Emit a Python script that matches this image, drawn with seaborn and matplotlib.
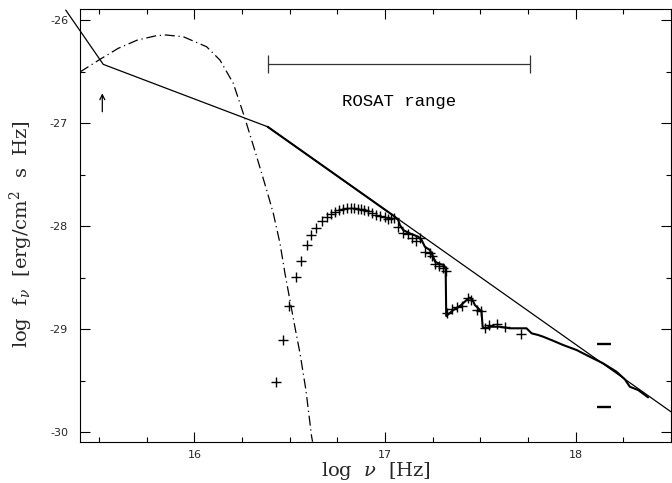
import numpy as np
import pandas as pd
import seaborn as sns
import matplotlib
matplotlib.use("Agg")
import matplotlib.pyplot as plt
from matplotlib.ticker import MultipleLocator

# ---------------- data (log nu [Hz], log f_nu) ----------------
# ROSAT PSPC data points (crosses)
data_x = [16.426, 16.463, 16.498, 16.531, 16.560, 16.589, 16.613, 16.639, 16.667, 16.693,
          16.716, 16.740, 16.759, 16.777, 16.799, 16.820, 16.838, 16.856, 16.874, 16.891,
          16.909, 16.930, 16.952, 16.973, 16.999, 17.014, 17.031, 17.048, 17.069, 17.094,
          17.120, 17.141, 17.162, 17.183, 17.209, 17.235, 17.246, 17.262, 17.284, 17.303,
          17.319, 17.323, 17.349, 17.375, 17.402, 17.436, 17.450, 17.484, 17.503, 17.524,
          17.547, 17.585, 17.629, 17.713]
data_y = [-29.508, -29.101, -28.774, -28.493, -28.340, -28.185, -28.082, -28.020, -27.954, -27.911,
          -27.882, -27.859, -27.840, -27.830, -27.826, -27.826, -27.826, -27.830, -27.833, -27.843,
          -27.850, -27.875, -27.891, -27.901, -27.908, -27.930, -27.918, -27.923, -28.011, -28.066,
          -28.080, -28.110, -28.139, -28.114, -28.250, -28.257, -28.289, -28.371, -28.386, -28.405,
          -28.435, -28.839, -28.800, -28.779, -28.774, -28.699, -28.716, -28.813, -28.822, -28.990,
          -28.958, -28.946, -28.978, -29.046]

# absorbed model (solid, thicker)
model_x = [16.384, 17.052, 17.069, 17.078, 17.095, 17.130, 17.174, 17.192, 17.209, 17.235,
           17.253, 17.262, 17.288, 17.309, 17.318, 17.321, 17.358, 17.393, 17.428, 17.445,
           17.459, 17.471, 17.489, 17.506, 17.512, 17.524, 17.550, 17.602, 17.655, 17.742,
           17.769, 17.803, 17.830, 17.882, 17.934, 18.005, 18.074, 18.144, 18.214, 18.258,
           18.284, 18.328, 18.380]
model_y = [-27.035, -27.908, -27.940, -27.988, -28.037, -28.069, -28.102, -28.134, -28.199, -28.231,
           -28.296, -28.344, -28.367, -28.376, -28.408, -28.871, -28.813, -28.774, -28.716, -28.693,
           -28.716, -28.764, -28.796, -28.829, -28.975, -28.990, -28.975, -28.975, -28.990, -28.990,
           -29.039, -29.055, -29.072, -29.111, -29.152, -29.201, -29.266, -29.330, -29.411, -29.485,
           -29.557, -29.589, -29.660]

# broken power law (thin solid)
plaw_x = [15.325, 15.522, 16.384, 18.50]
plaw_y = [-25.903, -26.430, -27.035, -29.800]

# dash-dot thermal component
bb_x = [15.40, 15.505, 15.60, 15.70, 15.80, 15.85, 15.942, 16.064, 16.134, 16.204,
        16.265, 16.327, 16.379, 16.414, 16.449, 16.475, 16.501, 16.527, 16.554, 16.585,
        16.615, 16.620]
bb_y = [-26.504, -26.381, -26.275, -26.195, -26.152, -26.145, -26.162, -26.259, -26.388, -26.614,
        -26.953, -27.326, -27.649, -27.875, -28.166, -28.457, -28.716, -28.975, -29.233, -29.589,
        -30.042, -30.090]

# ROSAT energy range (0.1 - 2.4 keV)
rosat_x = [16.384, 17.763]
rosat_y = -26.43
rosat_label = "ROSAT range"

# short horizontal marks
dash_x = [18.113, 18.183]
dash_y = [-29.14, -29.75]

# arrow
arrow_x = 15.517
arrow_y = [-26.890, -26.711]

xticks = [16, 17, 18]
yticks = [-30, -29, -28, -27, -26]

# ---------------- style ----------------
sns.set_theme(style="ticks")
plt.rcParams["font.family"] = ["DejaVu Sans"]
plt.rcParams["mathtext.fontset"] = "dejavuserif"
plt.rcParams["axes.unicode_minus"] = False

fig = plt.figure(figsize=(6.72, 4.83), dpi=100)
ax = fig.add_axes([80 / 672, (483 - 441.7) / 483, 591 / 672, 432.7 / 483])

df_pl = pd.DataFrame({"x": plaw_x, "y": plaw_y})
sns.lineplot(data=df_pl, x="x", y="y", ax=ax, color="black", lw=0.9,
             sort=False, estimator=None)
ax.lines[-1].set_clip_on(False)

df_m = pd.DataFrame({"x": model_x, "y": model_y})
sns.lineplot(data=df_m, x="x", y="y", ax=ax, color="black", lw=1.5,
             sort=False, estimator=None)

df_bb = pd.DataFrame({"x": bb_x, "y": bb_y})
sns.lineplot(data=df_bb, x="x", y="y", ax=ax, color="black", lw=0.9,
             sort=False, estimator=None)
ax.lines[-1].set_dashes([8, 3, 1, 3])

df_d = pd.DataFrame({"x": data_x, "y": data_y})
sns.scatterplot(data=df_d, x="x", y="y", ax=ax, marker="+", color="black",
                s=55, linewidth=1.0)

# ROSAT bar
mid = np.mean(rosat_x)
ax.errorbar([mid], [rosat_y], xerr=[[mid - rosat_x[0]], [rosat_x[1] - mid]],
            fmt="none", ecolor="#333333", elinewidth=0.9, capsize=6.5, capthick=0.9)
ax.text(mid, -26.79, rosat_label, family="Liberation Mono",
        fontsize=12.5, ha="center", va="center", color="black")

for yy in dash_y:
    ax.hlines(yy, dash_x[0], dash_x[1], color="black", lw=1.7)

ax.annotate("", xy=(arrow_x, arrow_y[1]), xytext=(arrow_x, arrow_y[0]),
            arrowprops=dict(arrowstyle="->", color="black", lw=0.9,
                            shrinkA=0, shrinkB=0, mutation_scale=9))

ax.set_xlim(15.4, 18.5)
ax.set_ylim(-30.09, -25.893)
ax.set_xticks(xticks)
ax.set_yticks(yticks)
ax.xaxis.set_minor_locator(MultipleLocator(0.25))
ax.yaxis.set_minor_locator(MultipleLocator(0.5))
ax.tick_params(which="both", direction="in", top=True, right=True,
               color="black", width=0.8)
ax.tick_params(which="major", length=7)
ax.tick_params(which="minor", length=3.8)
ax.tick_params(axis="x", which="major", pad=6, labelsize=8)
ax.tick_params(axis="y", which="major", pad=8.5, labelsize=8)
for s in ax.spines.values():
    s.set_linewidth(0.8)
    s.set_color("black")

ax.set_xlabel(r"log  $\nu$  [Hz]", family="DejaVu Serif", fontsize=14)
ax.set_ylabel(r"log  f$_\nu$  [erg/cm$^2$  s  Hz]", family="DejaVu Serif", fontsize=14)
ax.xaxis.set_label_coords(0.5, -0.042)
ax.yaxis.set_label_coords(-0.076, 0.48)

fig.savefig("out.png", dpi=100)
